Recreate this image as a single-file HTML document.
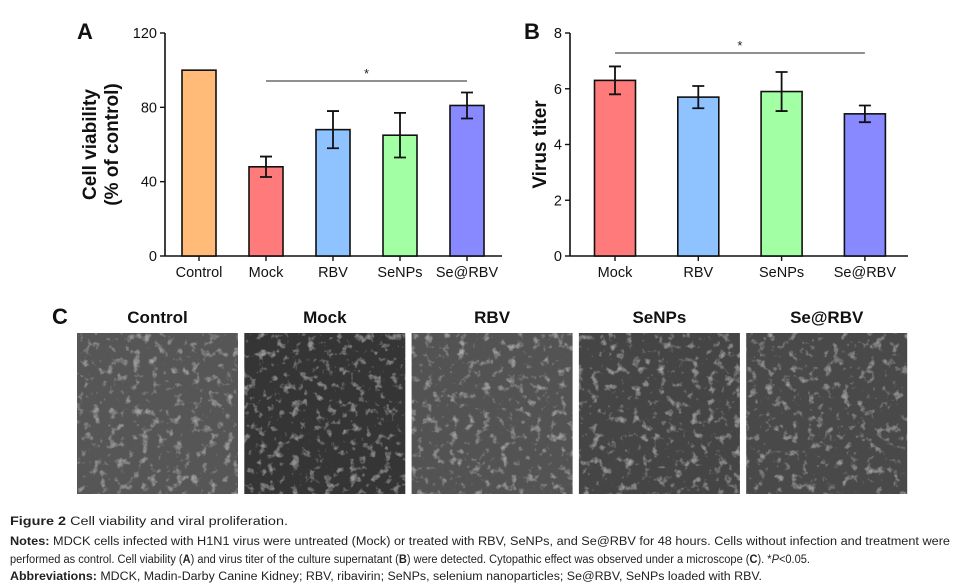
<!DOCTYPE html>
<html><head><meta charset="utf-8"><style>
html,body{margin:0;padding:0;background:#fff;}
svg{display:block;font-family:"Liberation Sans",Arial,sans-serif;}
</style></head><body>
<svg id="fig" width="958" height="586" viewBox="0 0 958 586">
<defs>
<filter id="tex" x="0" y="0" width="100%" height="100%">
<feTurbulence type="fractalNoise" baseFrequency="0.12" numOctaves="3" seed="4" result="n"/>
<feColorMatrix type="matrix" values="0 0 0 0 1  0 0 0 0 1  0 0 0 0 1  0 0 0 2.2 -1.25" in="n" result="w"/>
<feComponentTransfer in="w" result="w2"><feFuncA type="linear" slope="0.45"/></feComponentTransfer>
<feComposite in="w2" in2="SourceGraphic" operator="atop"/>
</filter>
</defs>
<g id="chartA"></g>
<g id="chartB"></g>
<g id="panelC"></g>
<g font-size="11.5" fill="#222">
<text x="10" y="525" textLength="278" lengthAdjust="spacingAndGlyphs"><tspan font-weight="bold">Figure 2</tspan> Cell viability and viral proliferation.</text>
<text x="10" y="545" textLength="940" lengthAdjust="spacingAndGlyphs"><tspan font-weight="bold">Notes:</tspan> MDCK cells infected with H1N1 virus were untreated (Mock) or treated with RBV, SeNPs, and Se@RBV for 48 hours. Cells without infection and treatment were</text>
<text x="10" y="563" textLength="800" lengthAdjust="spacingAndGlyphs">performed as control. Cell viability (<tspan font-weight="bold">A</tspan>) and virus titer of the culture supernatant (<tspan font-weight="bold">B</tspan>) were detected. Cytopathic effect was observed under a microscope (<tspan font-weight="bold">C</tspan>). *<tspan font-style="italic">P</tspan>&lt;0.05.</text>
<text x="10" y="580" textLength="752" lengthAdjust="spacingAndGlyphs"><tspan font-weight="bold">Abbreviations:</tspan> MDCK, Madin-Darby Canine Kidney; RBV, ribavirin; SeNPs, selenium nanoparticles; Se@RBV, SeNPs loaded with RBV.</text>
</g>
</svg>
<script>
// Chart A data
const catsA = ["Control","Mock","RBV","SeNPs","Se@RBV"];
const valsA = [100, 48, 68, 65, 81];
const errA = [0, 5.5, 10, 12, 7];
const ticksA = [0, 40, 80, 120];
const colorsA = ["#ffbb77","#ff7b7b","#8fc3ff","#a3ffa3","#8888ff"];
// Chart B data
const catsB = ["Mock","RBV","SeNPs","Se@RBV"];
const valsB = [6.3, 5.7, 5.9, 5.1];
const errB = [0.5, 0.4, 0.7, 0.3];
const ticksB = [0, 2, 4, 6, 8];
const colorsB = ["#ff7b7b","#8fc3ff","#a3ffa3","#8888ff"];
// Panel C
const imgLabels = ["Control","Mock","RBV","SeNPs","Se@RBV"];
const imgShades = ["#565656","#363636","#535353","#444444","#484848"];

const NS="http://www.w3.org/2000/svg";
function mk(tag, attrs, parent, txt){const e=document.createElementNS(NS,tag);for(const k in attrs)e.setAttribute(k,attrs[k]);if(txt!==undefined)e.textContent=txt;parent.appendChild(e);return e;}

function drawChart(g, o){
  const y = v => o.y0 - (v - 0)/(o.ymax) * (o.y0 - o.yTop);
  const ax = mk("line",{x1:o.x0,y1:o.yTop,x2:o.x0,y2:o.y0,stroke:"#111","stroke-width":1.6},g);
  
  
  const bx = mk("line",{x1:o.x0,y1:o.y0,x2:o.xEnd,y2:o.y0,stroke:"#111","stroke-width":1.6},g);
  
  
  o.ticks.forEach(t=>{
    const tl = mk("line",{x1:o.x0-5,y1:y(t),x2:o.x0,y2:y(t),stroke:"#111","stroke-width":1.4},g);
    
    
    const tx = mk("text",{x:o.x0-8,y:y(t)+5,"text-anchor":"end","font-size":14.5,fill:"#111"},g,String(t));
    
    
  });
  const xc = i => o.x0 + o.first + i*o.step;
  o.cats.forEach((c,i)=>{
    const cx = xc(i);
    const r = mk("rect",{x:cx-o.bw/2,y:y(o.vals[i]),width:o.bw,height:o.y0-y(o.vals[i]),fill:o.colors[i],stroke:"#111","stroke-width":1.6},g);
    
    
    if(o.err[i]>0){
      const e = mk("path",{d:`M${cx},${y(o.vals[i]+o.err[i])}V${y(o.vals[i]-o.err[i])}M${cx-6},${y(o.vals[i]+o.err[i])}H${cx+6}M${cx-6},${y(o.vals[i]-o.err[i])}H${cx+6}`,stroke:"#111","stroke-width":1.8,fill:"none"},g);
      
      
    }
    const xt = mk("line",{x1:cx,y1:o.y0,x2:cx,y2:o.y0+5,stroke:"#111","stroke-width":1.4},g);
    
    
    const xl = mk("text",{x:cx,y:o.y0+21,"text-anchor":"middle","font-size":14.5,fill:"#111"},g,c);
    
    
  });
  const s = mk("line",{x1:xc(o.sig[0]),y1:o.sigY,x2:xc(o.sig[1]),y2:o.sigY,stroke:"#222","stroke-width":1},g);
  
  
  const st = mk("text",{x:(xc(o.sig[0])+xc(o.sig[1]))/2,y:o.sigY-3,"text-anchor":"middle","font-size":13,fill:"#222"},g,"*");
  
  
  const pl = mk("text",{x:o.letterX,y:39,"font-size":22,"font-weight":"bold",fill:"#111"},g,o.letter);
  
  
  const yt = mk("text",{transform:`translate(${o.titleX},${(o.yTop+o.y0)/2}) rotate(-90)`,"text-anchor":"middle","font-size":19,"font-weight":"bold",fill:"#111"},g);
  
  
  o.title.forEach((ln,k)=>{mk("tspan",{x:0,dy:k===0?0:22},yt,ln);});
}

drawChart(document.getElementById("chartA"),{cats:catsA,vals:valsA,err:errA,ticks:ticksA,colors:colorsA,
  x0:165,xEnd:502,y0:256,yTop:33,ymax:120,first:34,step:67,bw:34,sig:[1,4],sigY:81,letter:"A",letterX:77,titleX:96,title:["Cell viability","(% of control)"]});
drawChart(document.getElementById("chartB"),{cats:catsB,vals:valsB,err:errB,ticks:ticksB,colors:colorsB,
  x0:570,xEnd:908,y0:256,yTop:33,ymax:8,first:45,step:83.3,bw:41,sig:[0,3],sigY:53,letter:"B",letterX:524,titleX:546,title:["Virus titer"]});

const gc = document.getElementById("panelC");
const cl = mk("text",{x:52,y:324,"font-size":22,"font-weight":"bold",fill:"#111"},gc,"C");


imgLabels.forEach((lab,i)=>{
  const x = 77 + i*167.3;
  const r = mk("rect",{x:x,y:333,width:161,height:161,fill:imgShades[i],filter:"url(#tex)"},gc);
  
  
  const t = mk("text",{x:x+80.5,y:323,"text-anchor":"middle","font-size":17,"font-weight":"bold",fill:"#111"},gc,lab);
  
  
});
</script>
</body></html>
